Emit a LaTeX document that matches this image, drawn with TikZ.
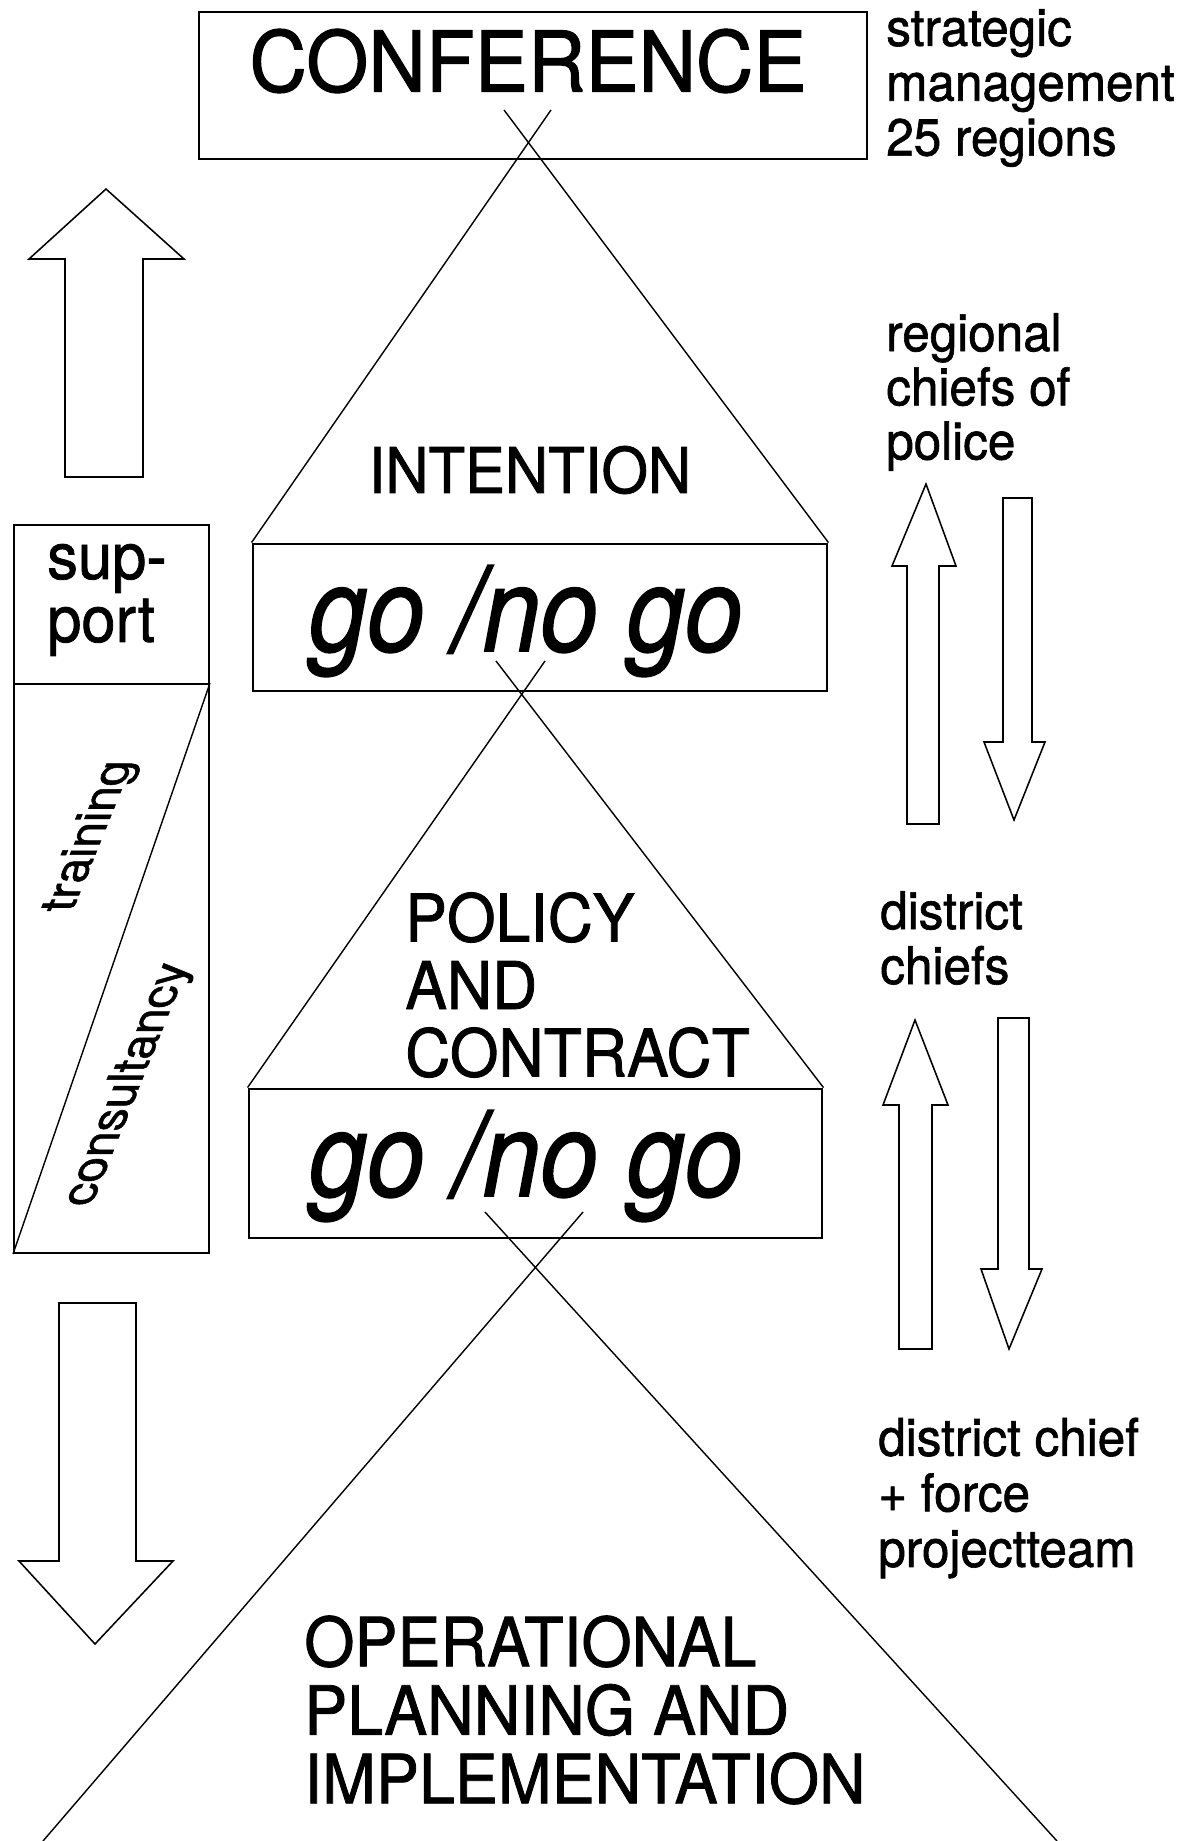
\documentclass[tikz,border=0pt]{standalone}
\usepackage{fontspec}
\setmainfont[FakeStretch=0.95,FakeBold=1.2]{TeX Gyre Heros}
\newfontfamily\gofont[FakeStretch=0.88,FakeBold=1.2]{TeX Gyre Heros}

\begin{document}
\begin{tikzpicture}[x=0.025cm,y=-0.025cm,
  box/.style={rectangle, draw, line width=1.4pt},
  lbl/.style={inner sep=0pt},
  tri/.style={line width=1pt},
  bigarrow/.style={draw, line width=1.1pt, line join=miter}]

  \useasboundingbox (0,0) rectangle (1188,1841);

  % top box
  \node[box,
        minimum width = 16.7cm,
        minimum height = 3.675cm
        ] (conf) at (533,85.5) {};
  \node[lbl, font=\fontsize{59.7}{60}\selectfont] (conftxt) at (528,61) {CONFERENCE};

  \node[box,
        line width = 2pt,
        minimum width = 14.35cm,
        minimum height = 3.675cm
        ] (go1) at (540,617.5) {};
  \node[lbl, font=\gofont\itshape\fontsize{84}{84}\selectfont] (go1txt) at (526,621) {go /no go};

  \node[box,
        line width = 2pt,
        minimum width = 14.325cm,
        minimum height = 3.725cm
        ] (go2) at (535.5,1163.5) {};
  \node[lbl, font=\gofont\itshape\fontsize{84}{84}\selectfont] (go2txt) at (526,1166) {go /no go};

  % triangles
  \node[lbl, font=\fontsize{44.8}{46}\selectfont] (intent) at (530,470) {INTENTION};
  \node[lbl, anchor=west, align=left,
        font=\fontsize{46.8}{48}\selectfont] (policy) at (405,985) {POLICY\\AND\\CONTRACT};
  \node[lbl, anchor=west, align=left,
        font=\fontsize{48.3}{48.7}\selectfont] (oper) at (304,1710) {OPERATIONAL\\PLANNING AND\\IMPLEMENTATION};

  \coordinate (xa1) at (504,110);
  \coordinate (xa2) at (551,110);
  \coordinate (xb1) at (496,661);
  \coordinate (xb2) at (545,661);
  \coordinate (xc1) at (485,1212);
  \coordinate (xc2) at (583,1212);
  \coordinate (opl) at (43,1841);
  \coordinate (opr) at (1057,1841);

  \draw[tri] (xa1) -- (go1.north east);
  \draw[tri] (xa2) -- (go1.north west);
  \draw[tri] (xb1) -- (go2.north east);
  \draw[tri] (xb2) -- (go2.north west);
  \draw[tri] (xc1) -- (opr);
  \draw[tri] (xc2) -- (opl);

  % support column
  \node[box,
        minimum width = 4.875cm,
        minimum height = 3.975cm
        ] (sup) at (111.5,604.5) {};
  \node[lbl, anchor=west, align=left,
        font=\fontsize{46}{44.8}\selectfont] (suptxt) at (47,600) {sup-\\port};
  \node[box,
        minimum width = 4.875cm,
        minimum height = 14.225cm
        ] (train) at (111.5,968.5) {};
  \draw[tri] (train.north east) -- (train.south west);
  \node[lbl, rotate=90, yslant=-0.404,
        font=\fontsize{34.5}{35}\selectfont] (traintxt) at (91,836) {training};
  \node[lbl, rotate=90, yslant=-0.404,
        font=\fontsize{34.5}{35}\selectfont] (constxt) at (128,1084) {consultancy};

  % block arrows
  \draw[bigarrow] (65,477) -- (65,259) -- (29,259) -- (106,189) -- (184,259)
    -- (143,259) -- (143,477) -- cycle;
  \draw[bigarrow] (59,1303) -- (136,1303) -- (136,1561) -- (173,1561) -- (95,1644)
    -- (19,1561) -- (59,1561) -- cycle;
  \draw[bigarrow] (907,824) -- (907,566) -- (892,566) -- (926,484) -- (956,566)
    -- (939,566) -- (939,824) -- cycle;
  \draw[bigarrow] (1003,498) -- (1032,498) -- (1032,742) -- (1045,742) -- (1014,820)
    -- (984,742) -- (1003,742) -- cycle;
  \draw[bigarrow] (899,1349) -- (899,1105) -- (883,1105) -- (915,1020) -- (948,1105)
    -- (932,1105) -- (932,1349) -- cycle;
  \draw[bigarrow] (998,1018) -- (1029,1018) -- (1029,1269) -- (1042,1269) -- (1009,1349)
    -- (981,1269) -- (998,1269) -- cycle;

  % right labels
  \node[lbl, anchor=west, align=left,
        font=\fontsize{37}{39}\selectfont] (strat) at (886,88) {strategic\\management\\25 regions};
  \node[lbl, anchor=west, align=left,
        font=\fontsize{37}{38.5}\selectfont] (regio) at (886,392) {regional\\chiefs of\\police};
  \node[lbl, anchor=west, align=left,
        font=\fontsize{37}{39}\selectfont] (distr) at (880,938) {district\\chiefs};
  \node[lbl, anchor=west, align=left,
        font=\fontsize{37}{39.5}\selectfont] (team) at (878,1498) {district chief\\+ force\\projectteam};

\end{tikzpicture}
\end{document}
